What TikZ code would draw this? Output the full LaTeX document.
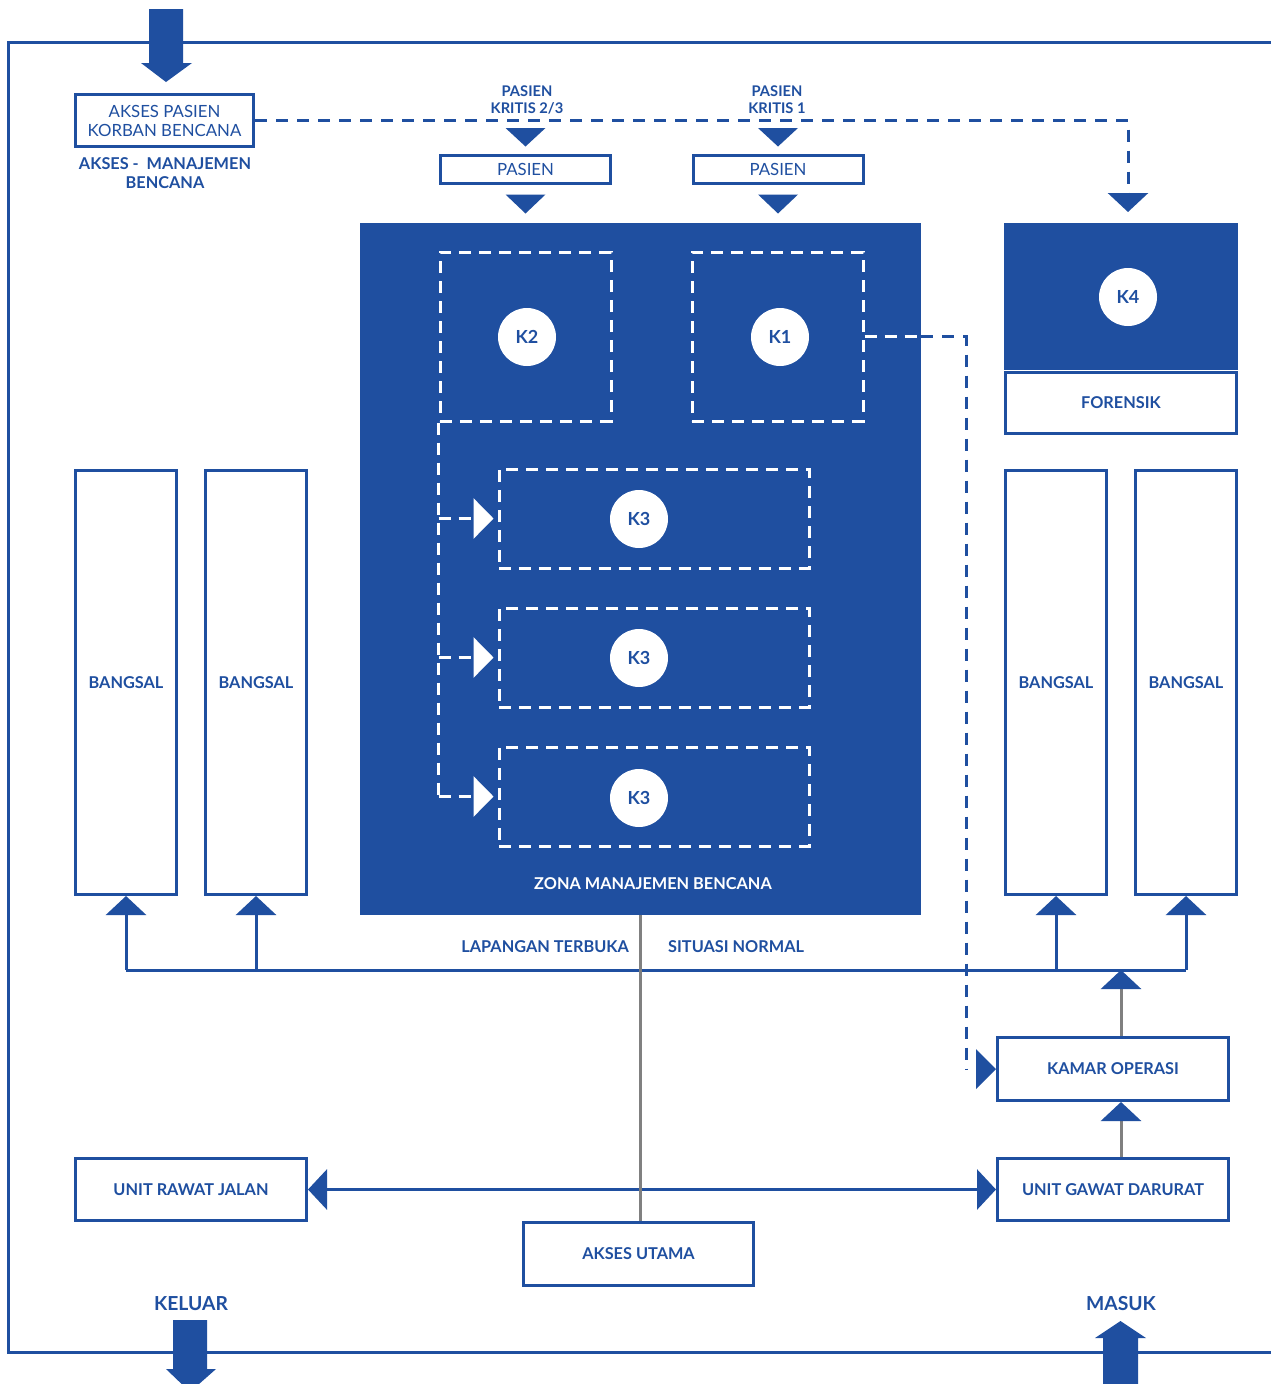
\documentclass[tikz,border=0pt]{standalone}
\usepackage{fontspec}
\setmainfont{Lato}
\usetikzlibrary{arrows.meta}
\definecolor{rsblue}{RGB}{31,79,160}
\definecolor{rsgray}{RGB}{128,128,128}
\begin{document}
\begin{tikzpicture}[x=1pt,y=-1pt,
  bfont/.style={font=\fontsize{16.3}{19}\selectfont\bfseries},
  rfont/.style={font=\fontsize{16.8}{19}\selectfont},
  lbl/.style={bfont, text=rsblue, align=center, inner sep=0pt},
  box/.style={draw=rsblue, line width=3pt, fill=white, inner sep=0pt, text=rsblue, bfont, align=center},
  wdbox/.style={draw=white, line width=3pt, dash pattern=on 12pt off 8pt, inner sep=0pt},
  circ/.style={circle, fill=white, minimum size=58pt, inner sep=0pt, text=rsblue, font=\fontsize{18}{20}\selectfont\bfseries},
  bl/.style={draw=rsblue, line width=3pt},
  gl/.style={draw=rsgray, line width=3pt},
  bdash/.style={draw=rsblue, line width=3pt, dash pattern=on 12pt off 9pt},
  wdash/.style={draw=white, line width=3pt, dash pattern=on 12pt off 8pt},
  bltri/.style={-{Triangle[width=40pt,length=19pt,color=rsblue,fill=rsblue]}},
  bltwo/.style={{Triangle[width=40pt,length=19pt,color=rsblue,fill=rsblue]}-{Triangle[width=40pt,length=19pt,color=rsblue,fill=rsblue]}},
  wtri/.style={-{Triangle[width=40pt,length=20pt,color=white,fill=white]}, shorten >=4pt}
]
\useasboundingbox (0,0) rectangle (1271,1384);
\fill[white] (0,0) rectangle (1271,1384);

% outer frame
\draw[bl] (1271,42) -- (8,42) -- (8,1352) -- (1271,1352);

% top entry arrow
\fill[rsblue] (149,9) -- (183,9) -- (183,63) -- (192,63) -- (166,82) -- (141,63) -- (149,63) -- cycle;

% access box
\node[box, rfont, minimum width=178pt, minimum height=52pt] (akses) at (164.5,120.5) {AKSES PASIEN\\KORBAN BENCANA};
\node[lbl] (aksesm) at (165,173.5) {AKSES -\ \ MANAJEMEN\\BENCANA};

% pasien labels
\node[lbl, font=\fontsize{14.7}{17}\selectfont\bfseries] (k23lbl) at (527,99.5) {PASIEN\\KRITIS 2/3};
\node[lbl, font=\fontsize{14.7}{17}\selectfont\bfseries] (k1lbl) at (777,99.5) {PASIEN\\KRITIS 1};
\node[box, rfont, minimum width=170pt, minimum height=28pt] (p23) at (525.5,169.5) {PASIEN};
\node[box, rfont, minimum width=170pt, minimum height=28pt] (p1) at (778,169.5) {PASIEN};

% zone
\node[fill=rsblue, minimum width=561pt, minimum height=692pt, inner sep=0pt] (zone) at (640.5,569) {};
\node[bfont, text=white, inner sep=0pt] (zlbl) at (653,884) {ZONA MANAJEMEN BENCANA};

\node[wdbox, minimum width=171pt, minimum height=169pt] (k2box) at (525.5,336.5) {};
\node[wdbox, minimum width=171pt, minimum height=169pt] (k1box) at (777.5,336.5) {};
\node[circ] (k2) at (527,337) {K2};
\node[circ] (k1) at (780,337) {K1};

\node[wdbox, minimum width=310pt, minimum height=99pt] (k3a) at (654,518.5) {};
\node[wdbox, minimum width=310pt, minimum height=99pt] (k3b) at (654,657.5) {};
\node[wdbox, minimum width=310pt, minimum height=99pt] (k3c) at (654,796.5) {};
\node[circ] (c3a) at (639,519) {K3};
\node[circ] (c3b) at (639,658) {K3};
\node[circ] (c3c) at (639,798) {K3};

% K4 / forensik
\node[fill=rsblue, minimum width=234pt, minimum height=147pt, inner sep=0pt] (k4box) at (1121,296.5) {};
\node[circ] (k4) at (1128,297) {K4};
\node[box, minimum width=231pt, minimum height=61pt] (foren) at (1121,403) {FORENSIK};

% bangsal
\node[box, minimum width=101pt, minimum height=424pt] (bL1) at (126,682.5) {BANGSAL};
\node[box, minimum width=101pt, minimum height=424pt] (bL2) at (256,682.5) {BANGSAL};
\node[box, minimum width=101pt, minimum height=424pt] (bR1) at (1056,682.5) {BANGSAL};
\node[box, minimum width=101pt, minimum height=424pt] (bR2) at (1186,682.5) {BANGSAL};

% lower boxes
\node[box, minimum width=231pt, minimum height=63pt] (kamar) at (1113,1069) {KAMAR OPERASI};
\node[box, minimum width=231pt, minimum height=62pt] (ugd) at (1113,1189.5) {UNIT GAWAT DARURAT};
\node[box, minimum width=231pt, minimum height=62pt] (urj) at (191,1189.5) {UNIT RAWAT JALAN};
\node[box, minimum width=230pt, minimum height=63pt] (au) at (638.5,1254) {AKSES UTAMA};

\node[lbl, anchor=east] (lap) at (629,947) {LAPANGAN TERBUKA};
\node[lbl, anchor=west] (sit) at (668,947) {SITUASI NORMAL};

% pasien triangles
\fill[rsblue] (p23.north) ++(-20,-26) -- ++(40,0) -- ++(-20,18.5) -- cycle;
\fill[rsblue] (p1.north) ++(-20,-26) -- ++(40,0) -- ++(-20,18.5) -- cycle;
\fill[rsblue] (p23.south) ++(-20,9.5) -- ++(40,0) -- ++(-20,19) -- cycle;
\fill[rsblue] (p1.south) ++(-20,9.5) -- ++(40,0) -- ++(-20,19) -- cycle;

% dashed from akses to K4
\coordinate (k4in) at (1128,212);
\draw[bdash, bltri] (akses.east) -| (k4in);

% white dashed distribution to K3
\draw[wdash] (k2box.south west) -- (k2box.south west |- k3c.west);
\draw[wdash, wtri] (k2box.south west |- k3a.west) -- (k3a.west);
\draw[wdash, wtri] (k2box.south west |- k3b.west) -- (k3b.west);
\draw[wdash, wtri] (k2box.south west |- k3c.west) -- (k3c.west);

% K1 to kamar operasi
\coordinate (k1out) at (zone.east |- k1box.east);
\coordinate (k1turn) at (966,336.5);
\draw[wdash] (k1box.east) -- (k1out);
\draw[bdash] (k1out) -- (k1turn) -- (k1turn |- kamar.west);
\fill[rsblue] (kamar.west) -- ++(-20,-20) -- ++(0,40) -- cycle;

% hub line to bangsal
\coordinate (hub) at (640,970);
\draw[bl] (bL1.south |- hub) -- (bR2.south |- hub);
\draw[bl, bltri] (bL1.south |- hub) -- (bL1.south);
\draw[bl, bltri] (bL2.south |- hub) -- (bL2.south);
\draw[bl, bltri] (bR1.south |- hub) -- (bR1.south);
\draw[bl, bltri] (bR2.south |- hub) -- (bR2.south);

% urj - ugd
\draw[bl, bltwo] (urj.east) -- (ugd.west);

% gray lines
\draw[gl] (zone.south) -- (zone.south |- au.north);
\coordinate (kin) at ([xshift=8pt]kamar.north);
\coordinate (kbot) at ([xshift=8pt]kamar.south);
\coordinate (uout) at ([xshift=8pt]ugd.north);
\draw[gl, bltri] (kin) -- (kin |- hub);
\draw[gl, bltri] (uout) -- (kbot);

% exit / entry
\node[lbl, font=\fontsize{19.3}{21}\selectfont\bfseries] (kel) at (191,1304) {KELUAR};
\node[lbl, font=\fontsize{19.3}{21}\selectfont\bfseries] (mas) at (1121,1304) {MASUK};
\fill[rsblue] (173,1320) -- (207,1320) -- (207,1369) -- (216,1369) -- (190,1392) -- (166,1369) -- (173,1369) -- cycle;
\fill[rsblue] (1120.5,1321) -- (1146,1338) -- (1138,1338) -- (1138,1390) -- (1103,1390) -- (1103,1338) -- (1095,1338) -- cycle;
\end{tikzpicture}
\end{document}
